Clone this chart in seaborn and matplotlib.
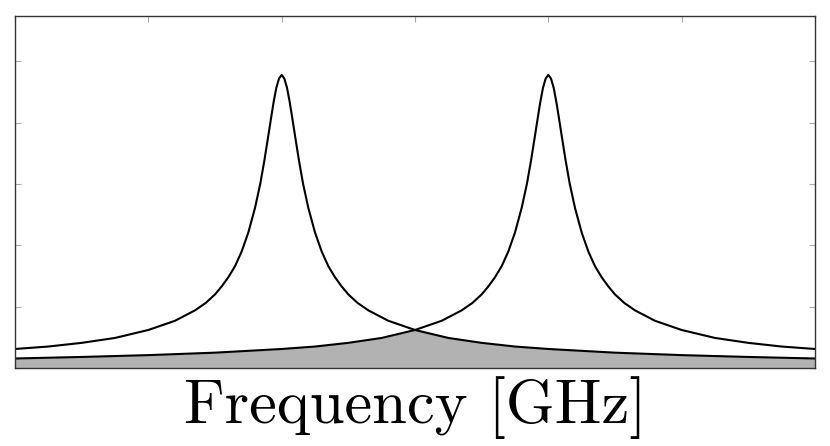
import numpy as np
import pandas as pd
import seaborn as sns
import matplotlib.pyplot as plt

# one-sided resonance profile (offset from peak, height)
offsets = [0.0, 0.02, 0.04, 0.06, 0.08, 0.10, 0.13, 0.16, 0.20, 0.25, 0.30,
           0.35, 0.40, 0.45, 0.50, 0.57, 0.65, 0.80, 1.00, 1.25, 1.50, 1.75,
           2.00, 2.50, 3.00, 3.50, 4.00]
heights = [4.78, 4.72, 4.57, 4.34, 4.07, 3.79, 3.38, 3.01, 2.61, 2.21, 1.90,
           1.66, 1.48, 1.33, 1.20, 1.06, 0.94, 0.77, 0.62, 0.49, 0.41, 0.35,
           0.31, 0.25, 0.21, 0.18, 0.155]
centers = [2, 4]
x_min, x_max = 0, 6

sns.set_theme(style="white")
plt.rcParams['xtick.direction'] = 'in'
plt.rcParams['ytick.direction'] = 'in'

fig = plt.figure(figsize=(8.3, 4.46), dpi=100)
ax = fig.add_axes([15 / 830, 1 - 368 / 446, 800 / 830, 352 / 446])

frames = []
for i, c in enumerate(centers):
    left = pd.DataFrame({'x': [c - d for d in offsets[::-1]], 'y': heights[::-1]})
    right = pd.DataFrame({'x': [c + d for d in offsets[1:]], 'y': heights[1:]})
    part = pd.concat([left, right])
    part = part[(part['x'] >= x_min) & (part['x'] <= x_max)]
    part['mode'] = i
    frames.append(part)
df = pd.concat(frames, ignore_index=True)

# overlap region = lower envelope of the two peaks
c1 = df[df['mode'] == 0]
c2 = df[df['mode'] == 1]
mid = (centers[0] + centers[1]) / 2
low = pd.concat([c2[c2['x'] <= mid], c1[c1['x'] > mid]]).sort_values('x')
ax.fill_between(low['x'], 0, low['y'], color='#b2b2b2', linewidth=0)

sns.lineplot(data=df, x='x', y='y', units='mode', estimator=None,
             color='black', linewidth=1.5, ax=ax)

ax.set_axisbelow(True)
ax.set_xlim(x_min, x_max)
ax.set_ylim(0, 5.74)
ax.set_xticks(range(0, 7))
ax.set_yticks(range(0, 6))
ax.tick_params(axis='both', which='both', length=4, width=0.8, color='#aaaaaa',
               top=True, right=True, bottom=True, left=True,
               labelbottom=False, labelleft=False)
for s in ax.spines.values():
    s.set_color('#333333')
    s.set_linewidth(1.0)

ax.set_ylabel('')
ax.set_xlabel('Frequency [GHz]', fontfamily='cmr10', fontsize=45,
              color='black', labelpad=6)

fig.savefig('out.png', dpi=100)
